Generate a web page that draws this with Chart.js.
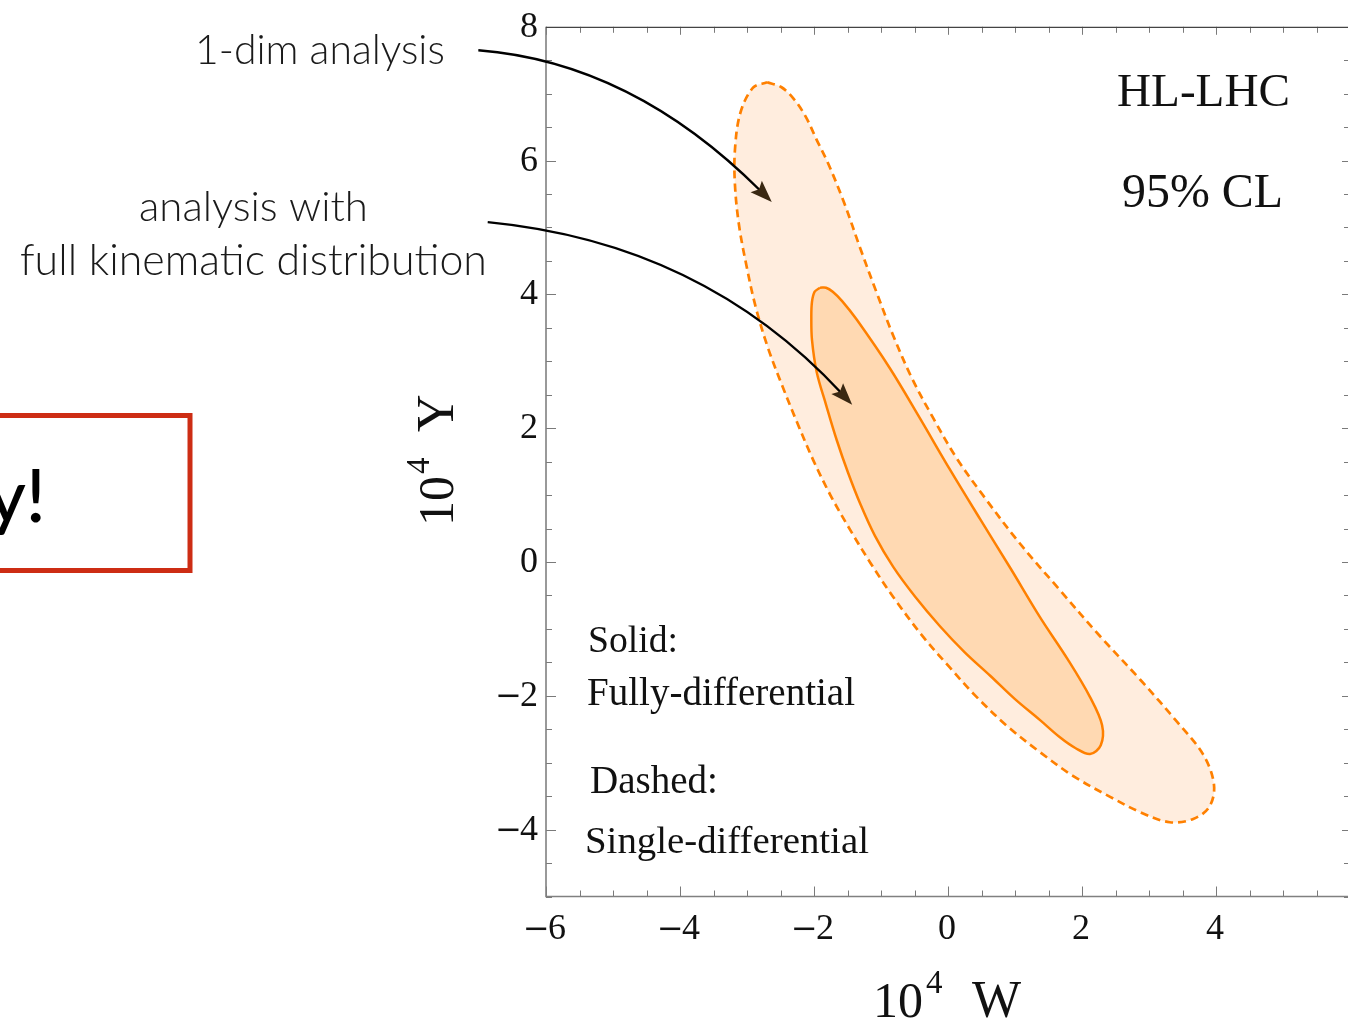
<!DOCTYPE html>
<html><head><meta charset="utf-8">
<script src="https://cdn.jsdelivr.net/npm/chart.js@4.4.0/dist/chart.umd.min.js"></script>
<style>
html,body{margin:0;padding:0;background:#fff;overflow:hidden;width:1348px;height:1021px}
#wrap{position:absolute;left:0;top:0;width:1350px;height:1021px}
</style>
</head><body><div id="wrap"><canvas id="c" width="1350" height="1021"></canvas></div>
<script>
// ---- data (10^4 W , 10^4 Y), contours traced clockwise from the top ----
const outerW = [-2.70,-2.49,-2.30,-2.12,-1.96,-1.79,-1.55,-1.31,-1.07,-0.82,-0.54,-0.22,0.13,0.55,1.07,1.67,2.27,2.87,3.42,3.81,3.97,3.90,3.66,3.31,2.87,2.42,1.87,1.37,0.88,0.40,0.03,-0.37,-0.82,-1.16,-1.46,-1.75,-2.01,-2.25,-2.48,-2.69,-2.87,-3.01,-3.12,-3.18,-3.18,-3.10,-2.91];
const outerY = [7.17,7.10,6.92,6.65,6.31,5.96,5.37,4.69,4.04,3.39,2.75,2.15,1.55,0.96,0.28,-0.42,-1.11,-1.76,-2.39,-2.88,-3.33,-3.66,-3.84,-3.89,-3.74,-3.51,-3.20,-2.84,-2.45,-1.99,-1.58,-1.12,-0.52,-0.01,0.48,0.99,1.52,2.08,2.65,3.21,3.81,4.44,5.04,5.64,6.16,6.71,7.09];
const innerW = [-1.91,-1.82,-1.72,-1.58,-1.36,-0.87,-0.42,0.03,0.48,0.93,1.37,1.79,2.12,2.30,2.28,2.12,1.90,1.67,1.37,1.00,0.63,0.25,-0.12,-0.49,-0.82,-1.09,-1.31,-1.49,-1.66,-1.82,-1.96,-2.03,-2.04,-2.03,-1.99];
const innerY = [4.10,4.10,4.04,3.90,3.62,2.90,2.15,1.38,0.64,-0.09,-0.82,-1.46,-2.02,-2.44,-2.74,-2.87,-2.78,-2.62,-2.36,-2.05,-1.70,-1.35,-0.96,-0.52,-0.07,0.39,0.87,1.33,1.82,2.35,2.84,3.32,3.66,3.89,4.04];
const xTickValues = [-6,-4,-2,0,2,4];
const xTickLabels = ['\u22126','\u22124','\u22122','0','2','4'];
const yTickValues = [-4,-2,0,2,4,6,8];
const yTickLabels = ['\u22124','\u22122','0','2','4','6','8'];
// annotation arrows in data coordinates: start, control, end
const arrow1 = [[-7.01,7.65],[-4.72,7.47],[-2.63,5.38]];
const arrow2 = [[-6.87,5.08],[-3.67,4.77],[-1.43,2.35]];

function pts(w, y){ const p = w.map((v,i)=>({x:v,y:y[i]})); p.push({x:w[0],y:y[0]}); return p; }

const ORANGE = 'rgb(255,128,0)';
const SERIF = '"Liberation Serif", "Times New Roman", serif';
const MINUSF = '"DejaVu Serif", serif';
const SANS = 'Lato, "Open Sans", sans-serif';

function fitFont(ctx, text, family, weight, targetW){
  ctx.font = weight + ' 100px ' + family;
  return 100 * targetW / ctx.measureText(text).width;
}
function drawFit(ctx, text, x, y, targetW, family, weight){
  const s = fitFont(ctx, text, family, weight, targetW);
  ctx.font = weight + ' ' + s.toFixed(2) + 'px ' + family;
  ctx.textAlign = 'left';
  ctx.textBaseline = 'alphabetic';
  ctx.fillText(text, x, y);
}
// tick label: minus drawn in a font with a wider minus, digits in serif
function tickLabel(ctx, lab, x, y, align){
  ctx.textAlign = 'left'; ctx.textBaseline = 'alphabetic';
  const neg = lab.startsWith('\u2212');
  const digits = neg ? lab.slice(1) : lab;
  ctx.font = '32px ' + MINUSF; const mw = neg ? ctx.measureText('\u2212').width - 3 : 0;
  ctx.font = '36px ' + SERIF; const dw = ctx.measureText(digits).width;
  const tot = mw + dw;
  let x0 = align === 'center' ? x - tot/2 : x - tot;
  if (neg){ ctx.font = '32px ' + MINUSF; ctx.fillText('\u2212', x0 - 1, y); }
  ctx.font = '36px ' + SERIF; ctx.fillText(digits, x0 + mw, y);
}

const framePlugin = {
  id: 'frame',
  afterDraw(chart){
    const ctx = chart.ctx, xs = chart.scales.x, ys = chart.scales.y, ca = chart.chartArea;
    ctx.save();
    // ticks (inward)
    ctx.strokeStyle = '#7a7a7a'; ctx.lineWidth = 1;
    for (let v = -6; v <= 6.001; v += 0.5){
      const px = Math.round(xs.getPixelForValue(v)) + 0.5;
      const major = Math.abs(v % 2) < 1e-9;
      ctx.beginPath();
      ctx.moveTo(px, ca.bottom); ctx.lineTo(px, ca.bottom - (major ? 10 : 6));
      ctx.moveTo(px, ca.top); ctx.lineTo(px, ca.top + (major ? 8 : 6));
      ctx.stroke();
    }
    for (let v = -5; v <= 8.001; v += 0.5){
      const py = Math.round(ys.getPixelForValue(v)) + 0.5;
      const major = Math.abs(v % 2) < 1e-9;
      ctx.beginPath();
      ctx.moveTo(ca.left, py); ctx.lineTo(ca.left + (major ? 10 : 6), py);
      ctx.moveTo(ca.right, py); ctx.lineTo(ca.right - (major ? 8 : 6), py);
      ctx.stroke();
    }
    // axis lines
    ctx.strokeStyle = '#808080'; ctx.lineWidth = 1.6;
    ctx.beginPath();
    ctx.moveTo(ca.left, ca.top); ctx.lineTo(ca.left, ca.bottom); ctx.lineTo(ca.right, ca.bottom);
    ctx.stroke();
    ctx.strokeStyle = '#444'; ctx.lineWidth = 1.2;
    ctx.beginPath(); ctx.moveTo(ca.left, ca.top + 0.5); ctx.lineTo(ca.right, ca.top + 0.5); ctx.stroke();

    // tick labels
    ctx.fillStyle = '#111';
    xTickValues.forEach((v,i)=> tickLabel(ctx, xTickLabels[i], xs.getPixelForValue(v) - 1, 939, 'center'));
    yTickValues.forEach((v,i)=> tickLabel(ctx, yTickLabels[i], 538, ys.getPixelForValue(v) + 10, 'right'));

    // axis titles
    ctx.textBaseline = 'alphabetic'; ctx.textAlign = 'left';
    ctx.font = '50px ' + SERIF; ctx.fillText('10', 873, 1017);
    ctx.font = '33px ' + SERIF; ctx.fillText('4', 926, 993);
    ctx.font = '52px ' + SERIF; ctx.fillText('W', 972, 1017);
    ctx.save();
    ctx.translate(453, 526); ctx.rotate(-Math.PI/2);
    ctx.font = '50px ' + SERIF; ctx.fillText('10', 0, 0);
    ctx.font = '33px ' + SERIF; ctx.fillText('4', 52, -24);
    ctx.font = '52px ' + SERIF; ctx.fillText('Y', 94, 0);
    ctx.restore();

    // in-plot texts
    ctx.fillStyle = '#111';
    drawFit(ctx, 'HL-LHC', 1117, 106, 173, SERIF, '400');
    drawFit(ctx, '95% CL', 1122, 207, 161, SERIF, '400');
    drawFit(ctx, 'Solid:', 588, 652, 90, SERIF, '400');
    drawFit(ctx, 'Fully-differential', 587, 705, 268, SERIF, '400');
    drawFit(ctx, 'Dashed:', 590, 793, 128, SERIF, '400');
    drawFit(ctx, 'Single-differential', 585, 853, 284, SERIF, '400');

    // left annotations
    ctx.fillStyle = '#1a1a1a';
    drawFit(ctx, '1-dim analysis', 195, 64, 250, SANS, '300');
    drawFit(ctx, 'analysis with', 139, 221, 229, SANS, '300');
    drawFit(ctx, 'full kinematic distribution', 20, 275, 467, SANS, '300');

    // red box with "y!"
    ctx.strokeStyle = 'rgb(205,45,20)'; ctx.lineWidth = 5;
    ctx.strokeRect(-20, 415.5, 210, 155);
    ctx.fillStyle = '#000';
    ctx.font = '500 74px ' + SANS; ctx.textAlign = 'right'; ctx.textBaseline = 'alphabetic';
    ctx.fillText('y!', 46, 522);

    // arrows
    [arrow1, arrow2].forEach(a=>{
      const p = a.map(q=>[xs.getPixelForValue(q[0]), ys.getPixelForValue(q[1])]);
      const ang = Math.atan2(p[2][1]-p[1][1], p[2][0]-p[1][0]);
      const L = 22, Wd = 8;
      const bx = p[2][0] - L*Math.cos(ang), by = p[2][1] - L*Math.sin(ang);
      ctx.strokeStyle = '#000'; ctx.lineWidth = 2.4;
      ctx.beginPath(); ctx.moveTo(p[0][0], p[0][1]);
      ctx.quadraticCurveTo(p[1][0], p[1][1], bx + 6*Math.cos(ang), by + 6*Math.sin(ang));
      ctx.stroke();
      ctx.fillStyle = '#3a2812';
      ctx.beginPath();
      ctx.moveTo(p[2][0], p[2][1]);
      ctx.lineTo(bx - Wd*Math.sin(ang), by + Wd*Math.cos(ang));
      ctx.lineTo(bx + 4*Math.cos(ang), by + 4*Math.sin(ang));
      ctx.lineTo(bx + Wd*Math.sin(ang), by - Wd*Math.cos(ang));
      ctx.closePath(); ctx.fill();
    });
    ctx.restore();
  }
};

new Chart(document.getElementById('c'), {
  type: 'scatter',
  data: {
    datasets: [
      { label: 'Single-differential', data: pts(outerW, outerY), showLine: true, fill: 'shape',
        backgroundColor: 'rgb(255,237,222)', borderColor: ORANGE, borderWidth: 2.7,
        borderDash: [8,5], pointRadius: 0, tension: 0.35, order: 2 },
      { label: 'Fully-differential', data: pts(innerW, innerY), showLine: true, fill: 'shape',
        backgroundColor: 'rgb(255,217,178)', borderColor: ORANGE, borderWidth: 2.5,
        pointRadius: 0, tension: 0.35, order: 1 }
    ]
  },
  options: {
    responsive: false, animation: false, devicePixelRatio: 1,
    layout: { padding: { left: 546, top: 26.8, right: 0, bottom: 124.5 } },
    scales: {
      x: { type: 'linear', min: -6, max: 6, display: false },
      y: { type: 'linear', min: -5, max: 8, display: false }
    },
    plugins: { legend: { display: false }, tooltip: { enabled: false } }
  },
  plugins: [framePlugin]
});
</script>
</body></html>
